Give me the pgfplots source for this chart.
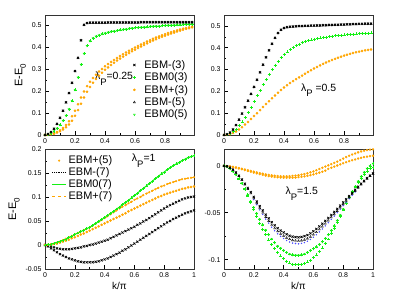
\documentclass[border=0pt]{standalone}
\usepackage{fontspec}
\setmainfont{Liberation Sans}
\usepackage{pgfplots}
\usepackage{pgfplotstable}
\pgfplotsset{compat=1.18}
\definecolor{ggreen}{RGB}{20,240,20}
\definecolor{gorange}{RGB}{255,165,0}

\pgfplotstableread{
k bm g o3 o5
0 0 0 0 0
0.02 0.004 0.003 0.001 0.001
0.04 0.013 0.009 0.004 0.003
0.06 0.028 0.018 0.008 0.006
0.08 0.05 0.03 0.014 0.011
0.10 0.078 0.046 0.022 0.017
0.12 0.11 0.065 0.032 0.025
0.14 0.148 0.088 0.045 0.035
0.16 0.19 0.117 0.062 0.048
0.18 0.237 0.155 0.085 0.065
0.20 0.29 0.205 0.11 0.087
0.22 0.35 0.262 0.14 0.113
0.24 0.43 0.32 0.17 0.142
0.26 0.50 0.37 0.198 0.17
0.28 0.508 0.405 0.222 0.196
0.30 0.51 0.427 0.242 0.218
0.32 0.51 0.44 0.259 0.237
0.34 0.51 0.448 0.274 0.254
0.36 0.51 0.454 0.288 0.269
0.38 0.51 0.459 0.3 0.283
0.40 0.51 0.463 0.312 0.296
0.42 0.511 0.466 0.322 0.307
0.44 0.511 0.469 0.332 0.318
0.46 0.511 0.472 0.341 0.328
0.48 0.511 0.474 0.35 0.338
0.50 0.511 0.477 0.359 0.347
0.52 0.511 0.479 0.367 0.356
0.54 0.511 0.481 0.375 0.364
0.56 0.511 0.483 0.383 0.372
0.58 0.511 0.485 0.39 0.38
0.60 0.511 0.487 0.397 0.387
0.62 0.511 0.488 0.404 0.395
0.64 0.512 0.489 0.411 0.402
0.66 0.512 0.49 0.418 0.409
0.68 0.512 0.491 0.425 0.416
0.70 0.512 0.492 0.431 0.423
0.72 0.512 0.493 0.437 0.429
0.74 0.512 0.494 0.443 0.435
0.76 0.512 0.495 0.448 0.441
0.78 0.512 0.496 0.453 0.446
0.80 0.512 0.497 0.458 0.451
0.82 0.512 0.498 0.463 0.456
0.84 0.512 0.498 0.467 0.461
0.86 0.512 0.499 0.471 0.465
0.88 0.512 0.5 0.475 0.47
0.90 0.512 0.5 0.479 0.474
0.92 0.512 0.501 0.483 0.478
0.94 0.512 0.502 0.486 0.482
0.96 0.512 0.502 0.489 0.485
0.98 0.512 0.503 0.492 0.489
}\TL

\pgfplotstableread{
k b g o
0 0 0 0
0.02 0.003 0.002 0.001
0.04 0.011 0.007 0.004
0.06 0.025 0.015 0.009
0.08 0.045 0.027 0.016
0.10 0.07 0.042 0.025
0.12 0.098 0.06 0.036
0.14 0.127 0.08 0.048
0.16 0.157 0.103 0.06
0.18 0.188 0.128 0.073
0.20 0.22 0.155 0.087
0.22 0.253 0.18 0.1
0.24 0.287 0.205 0.114
0.26 0.322 0.23 0.128
0.28 0.356 0.255 0.142
0.30 0.388 0.279 0.155
0.32 0.418 0.3 0.168
0.34 0.445 0.32 0.181
0.36 0.467 0.338 0.194
0.38 0.482 0.354 0.206
0.40 0.49 0.368 0.218
0.42 0.494 0.381 0.228
0.44 0.496 0.392 0.238
0.46 0.497 0.402 0.247
0.48 0.498 0.41 0.256
0.50 0.499 0.417 0.264
0.52 0.499 0.423 0.272
0.54 0.5 0.428 0.281
0.56 0.5 0.432 0.289
0.58 0.501 0.436 0.297
0.60 0.501 0.439 0.305
0.62 0.502 0.442 0.312
0.64 0.502 0.445 0.319
0.66 0.503 0.447 0.326
0.68 0.503 0.449 0.332
0.70 0.504 0.451 0.338
0.72 0.504 0.453 0.344
0.74 0.505 0.455 0.349
0.76 0.505 0.456 0.354
0.78 0.506 0.458 0.359
0.80 0.506 0.459 0.364
0.82 0.507 0.46 0.368
0.84 0.507 0.461 0.372
0.86 0.508 0.462 0.376
0.88 0.508 0.463 0.379
0.90 0.509 0.464 0.382
0.92 0.509 0.465 0.385
0.94 0.51 0.466 0.388
0.96 0.51 0.467 0.39
0.98 0.51 0.468 0.392
}\TR

\pgfplotstableread{
k g ou ol bu bl
0 0 0 0 0 0
0.02 0.0005 0.0005 0.0003 -0.001 -0.003
0.04 0.0015 0.0015 0.001 -0.003 -0.007
0.06 0.003 0.003 0.002 -0.005 -0.011
0.08 0.005 0.005 0.003 -0.007 -0.015
0.10 0.007 0.007 0.005 -0.008 -0.019
0.12 0.009 0.01 0.007 -0.009 -0.022
0.14 0.012 0.013 0.009 -0.009 -0.025
0.16 0.015 0.016 0.011 -0.009 -0.028
0.18 0.018 0.019 0.014 -0.008 -0.03
0.20 0.022 0.022 0.016 -0.007 -0.032
0.22 0.025 0.025 0.019 -0.006 -0.034
0.24 0.028 0.028 0.022 -0.005 -0.035
0.26 0.031 0.031 0.024 -0.003 -0.036
0.28 0.034 0.034 0.027 -0.002 -0.036
0.30 0.037 0.037 0.03 0 -0.036
0.32 0.041 0.04 0.033 0.001 -0.036
0.34 0.045 0.044 0.036 0.003 -0.035
0.36 0.049 0.048 0.039 0.005 -0.034
0.38 0.053 0.052 0.042 0.007 -0.032
0.40 0.057 0.056 0.045 0.009 -0.03
0.42 0.061 0.06 0.048 0.011 -0.028
0.44 0.066 0.064 0.051 0.014 -0.025
0.46 0.07 0.068 0.054 0.017 -0.022
0.48 0.075 0.072 0.057 0.02 -0.019
0.50 0.079 0.076 0.06 0.023 -0.016
0.52 0.084 0.08 0.063 0.026 -0.012
0.54 0.089 0.083 0.066 0.029 -0.009
0.56 0.093 0.087 0.07 0.032 -0.005
0.58 0.098 0.09 0.073 0.035 -0.001
0.60 0.103 0.094 0.076 0.038 0.003
0.62 0.108 0.097 0.079 0.042 0.007
0.64 0.113 0.1 0.082 0.045 0.011
0.66 0.118 0.104 0.085 0.049 0.015
0.68 0.123 0.107 0.088 0.052 0.019
0.70 0.128 0.11 0.091 0.056 0.023
0.72 0.133 0.113 0.094 0.06 0.027
0.74 0.138 0.116 0.097 0.064 0.031
0.76 0.143 0.119 0.1 0.068 0.035
0.78 0.148 0.122 0.102 0.072 0.039
0.80 0.152 0.124 0.105 0.076 0.043
0.82 0.157 0.127 0.107 0.08 0.047
0.84 0.161 0.129 0.109 0.083 0.05
0.86 0.165 0.131 0.111 0.086 0.054
0.88 0.169 0.133 0.113 0.089 0.057
0.90 0.172 0.135 0.115 0.092 0.06
0.92 0.176 0.137 0.117 0.095 0.063
0.94 0.179 0.138 0.118 0.097 0.066
0.96 0.182 0.139 0.12 0.099 0.068
0.98 0.184 0.14 0.121 0.1 0.07
1 0.186 0.141 0.122 0.101 0.072
}\BL

\pgfplotstableread{
k ou ol b1 b2 g1 g2
0 0 0 0 0 0 0
0.02 -0.0002 -0.0002 -0.0005 -0.0005 -0.001 -0.001
0.04 -0.0006 -0.0007 -0.002 -0.0021 -0.003 -0.003
0.06 -0.001 -0.0013 -0.004 -0.0042 -0.006 -0.006
0.08 -0.0016 -0.002 -0.007 -0.0074 -0.0095 -0.0095
0.10 -0.0023 -0.0028 -0.0105 -0.011 -0.0135 -0.014
0.12 -0.003 -0.0036 -0.0145 -0.0152 -0.0185 -0.019
0.14 -0.0038 -0.0045 -0.019 -0.02 -0.0245 -0.025
0.16 -0.0046 -0.0054 -0.0235 -0.0247 -0.031 -0.032
0.18 -0.0054 -0.0063 -0.028 -0.0294 -0.038 -0.039
0.20 -0.0062 -0.0072 -0.033 -0.0347 -0.0445 -0.0465
0.22 -0.007 -0.008 -0.038 -0.0399 -0.051 -0.054
0.24 -0.0077 -0.0088 -0.043 -0.0452 -0.057 -0.061
0.26 -0.0084 -0.0096 -0.0475 -0.0499 -0.063 -0.0675
0.28 -0.009 -0.0103 -0.052 -0.0546 -0.0685 -0.0735
0.30 -0.0096 -0.0109 -0.056 -0.0588 -0.0735 -0.079
0.32 -0.0101 -0.0114 -0.06 -0.063 -0.078 -0.084
0.34 -0.0105 -0.0119 -0.0635 -0.0667 -0.082 -0.0885
0.36 -0.0108 -0.0122 -0.0665 -0.0698 -0.0855 -0.0925
0.38 -0.011 -0.0125 -0.069 -0.0725 -0.088 -0.096
0.40 -0.0111 -0.0126 -0.071 -0.0746 -0.0905 -0.099
0.42 -0.0111 -0.0127 -0.073 -0.0767 -0.0925 -0.1015
0.44 -0.011 -0.0127 -0.0745 -0.0782 -0.094 -0.1035
0.46 -0.0107 -0.0126 -0.0755 -0.0793 -0.095 -0.105
0.48 -0.0104 -0.0124 -0.076 -0.0798 -0.0955 -0.1055
0.50 -0.01 -0.0121 -0.0762 -0.08 -0.0955 -0.1055
0.52 -0.0094 -0.0117 -0.0758 -0.0796 -0.095 -0.105
0.54 -0.0087 -0.0112 -0.075 -0.0788 -0.094 -0.104
0.56 -0.0079 -0.0106 -0.0738 -0.0775 -0.0925 -0.1025
0.58 -0.0069 -0.0099 -0.072 -0.0756 -0.0905 -0.1005
0.60 -0.0059 -0.0091 -0.0698 -0.0733 -0.0885 -0.098
0.62 -0.0046 -0.0082 -0.0673 -0.0707 -0.0865 -0.095
0.64 -0.0033 -0.0072 -0.0646 -0.0678 -0.084 -0.0915
0.66 -0.002 -0.0062 -0.0617 -0.0648 -0.081 -0.0875
0.68 -0.0007 -0.0051 -0.0587 -0.0616 -0.0775 -0.083
0.70 0.0006 -0.0032 -0.0556 -0.0584 -0.0735 -0.078
0.72 0.0019 -0.002 -0.0524 -0.055 -0.069 -0.0725
0.74 0.0032 -0.0008 -0.0491 -0.0516 -0.064 -0.0665
0.76 0.0045 0.0004 -0.0458 -0.0481 -0.0585 -0.06
0.78 0.0062 0.0016 -0.0424 -0.0445 -0.0525 -0.0535
0.80 0.0078 0.0028 -0.039 -0.041 -0.046 -0.047
0.82 0.0094 0.0039 -0.0356 -0.0374 -0.0395 -0.0405
0.84 0.0108 0.005 -0.0322 -0.0338 -0.0335 -0.034
0.86 0.0121 0.006 -0.0288 -0.0302 -0.0275 -0.028
0.88 0.0133 0.0069 -0.0255 -0.0268 -0.022 -0.0225
0.90 0.0144 0.0078 -0.0222 -0.0233 -0.0165 -0.0175
0.92 0.0154 0.0086 -0.019 -0.02 -0.0115 -0.013
0.94 0.0162 0.0093 -0.016 -0.0168 -0.007 -0.009
0.96 0.0168 0.0099 -0.0131 -0.0138 -0.003 -0.0055
0.98 0.0173 0.0104 -0.0104 -0.0109 0 -0.003
1 0.0176 0.0108 -0.008 -0.0084 0.0025 -0.0015
}\BR

\pgfplotsset{
  panel/.style={
    scale only axis, width=149bp, height=120bp, anchor=south west,
    axis line style={black!80, line width=0.9bp},
    tick align=inside, tick pos=left,
    major tick length=4bp, minor tick length=2bp,
    every tick/.style={black, line width=0.6bp},
    tick label style={font=\fontsize{7}{8}\selectfont},
    /pgf/number format/assume math mode=true,
    /pgf/number format/fixed, /pgf/number format/precision=2,
    xtick={0,0.2,0.4,0.6,0.8,1}, minor x tick num=1,
    minor y tick num=1,
    clip=true,
    xlabel style={font=\fontsize{10}{11}\selectfont, yshift=2bp},
    ylabel style={font=\fontsize{11}{12}\selectfont, yshift=-1bp},
  },
  mx/.style={black, only marks, mark=x, mark size=1.5pt, line width=0.7bp},
  mtri/.style={black, only marks, mark=triangle, mark size=1.2pt, line width=0.4bp},
  mplus/.style={ggreen, only marks, mark=+, mark size=1.5pt, line width=0.7bp},
  mdtri/.style={ggreen, only marks, mark=triangle, mark size=1.1pt, line width=0.4bp, mark options={rotate=180}},
  mdot/.style={gorange, only marks, mark=*, mark size=1.1pt, mark options={draw=gorange, fill=gorange}},
}

\begin{document}
\begin{tikzpicture}
\path[use as bounding box] (0,0) rectangle (411bp,291bp);

% top left
\begin{axis}[panel, at={(45bp,156bp)}, xmin=0, xmax=0.993, ymin=0, ymax=0.545,
  ytick={0,0.1,0.2,0.3,0.4,0.5},
  ylabel={E-E\raisebox{-0.6ex}{\fontsize{8}{8}\selectfont 0}},
  legend cell align=left,
  legend image code/.code={\path[draw=none, fill=none] (0bp,0bp) -- (14bp,0bp); \draw[#1] plot[only marks] coordinates {(6bp,0bp)};},
  legend style={draw=none, fill=none, at={(rel axis cs:0.555,0.645)}, anchor=north west,
    font=\fontsize{11}{12}\selectfont, row sep=-1bp, inner sep=0.5pt}]
\addplot[mdot, forget plot] table[x=k, y=o5] {\TL};
\addplot[mdot, forget plot] table[x=k, y=o3] {\TL};
\addplot[mdtri, forget plot] table[x=k, y=g] {\TL};
\addplot[mplus, forget plot] table[x=k, y=g] {\TL};
\addplot[mtri, forget plot] table[x=k, y=bm] {\TL};
\addplot[mx, forget plot] table[x=k, y=bm] {\TL};
\addlegendimage{mx}\addlegendentry{EBM-(3)}
\addlegendimage{mplus}\addlegendentry{EBM0(3)}
\addlegendimage{mdot}\addlegendentry{EBM+(3)}
\addlegendimage{mtri}\addlegendentry{EBM-(5)}
\addlegendimage{mdtri}\addlegendentry{EBM0(5)}
\node[anchor=west, font=\fontsize{10.5}{11}\selectfont] at (axis cs:0.31,0.255)
  {λ\raisebox{-0.55em}{\fontsize{9.5}{9}\selectfont P}=0.25};
\end{axis}

% top right
\begin{axis}[panel, at={(224bp,156bp)}, xmin=0, xmax=0.993, ymin=0, ymax=0.55,
  ytick={0,0.1,0.2,0.3,0.4,0.5}]
\addplot[mdot] table[x=k, y=o] {\TR};
\addplot[mplus] table[x=k, y=g] {\TR};
\addplot[mtri] table[x=k, y=b] {\TR};
\addplot[mx] table[x=k, y=b] {\TR};
\node[anchor=west, font=\fontsize{10.5}{11}\selectfont] at (axis cs:0.49,0.205)
  {λ\raisebox{-0.55em}{\fontsize{9.5}{9}\selectfont P} =0.5};
\end{axis}

% bottom left
\begin{axis}[panel, at={(45bp,22bp)}, xmin=0, xmax=1, ymin=-0.05, ymax=0.2,
  ytick={-0.05,0,0.05,0.1,0.15,0.2},
  xlabel={k/π},
  ylabel={E-E\raisebox{-0.6ex}{\fontsize{8}{8}\selectfont 0}},
  legend cell align=left,
  legend image code/.code={\draw[mark repeat=2, mark phase=2, #1] plot coordinates {(0bp,0bp) (7bp,0bp) (14bp,0bp)};},
  legend style={draw=none, fill=none, at={(rel axis cs:0.04,0.965)}, anchor=north west,
    font=\fontsize{11}{12}\selectfont, row sep=-1.5bp, inner sep=0.5pt}]
\addplot[mx, forget plot] table[x=k, y=bl] {\BL};
\addplot[mx, forget plot] table[x=k, y=bu] {\BL};
\addplot[mdot, forget plot] table[x=k, y=ol] {\BL};
\addplot[mdot, mark size=0.9pt, forget plot] table[x=k, y=ou] {\BL};
\addplot[gorange, dashed, line width=1bp, forget plot] table[x=k, y=ou] {\BL};
\addplot[mplus, forget plot] table[x=k, y=g] {\BL};
\addplot[ggreen, line width=1bp, forget plot] table[x=k, y=g] {\BL};
\addlegendimage{mdot, mark size=0.9pt}\addlegendentry{EBM+(5)}
\addlegendimage{black, densely dotted, line width=0.8bp}\addlegendentry{EBM-(7)}
\addlegendimage{ggreen, line width=1bp}\addlegendentry{EBM0(7)}
\addlegendimage{gorange, dashed, line width=1bp}\addlegendentry{EBM+(7)}
\node[anchor=west, font=\fontsize{10.5}{11}\selectfont] at (axis cs:0.56,0.175)
  {λ\raisebox{-0.55em}{\fontsize{9.5}{9}\selectfont P}=1};
\end{axis}

% bottom right
\begin{axis}[panel, at={(224bp,22bp)}, xmin=0, xmax=1, ymin=-0.11, ymax=0.018,
  ytick={-0.1,-0.05,0},
  xlabel={k/π}]
\addplot[mdot, mark size=1pt] table[x=k, y=ol] {\BR};
\addplot[mdot, mark size=1pt] table[x=k, y=ou] {\BR};
\addplot[mplus] table[x=k, y=g2] {\BR};
\addplot[mdtri] table[x=k, y=g1] {\BR};
\addplot[mplus] table[x=k, y=g1] {\BR};
\addplot[blue!70, only marks, mark=*, mark size=0.5pt] coordinates {
(0.20,-0.036) (0.22,-0.0414) (0.24,-0.0469) (0.26,-0.0518) (0.28,-0.0567)
(0.30,-0.061) (0.32,-0.0654) (0.34,-0.0692) (0.36,-0.0725) (0.38,-0.0752)
(0.40,-0.0774) (0.42,-0.0796) (0.44,-0.0812) (0.46,-0.0823) (0.48,-0.0828)
(0.50,-0.0831) (0.52,-0.0826) (0.54,-0.0818) (0.56,-0.0804) (0.58,-0.0785)
(0.60,-0.0761) (0.62,-0.0734) (0.64,-0.0704) (0.66,-0.0673) (0.68,-0.064)
(0.70,-0.0606) (0.72,-0.0571) (0.74,-0.0535) (0.76,-0.0499) (0.78,-0.0462)
(0.80,-0.0425) (0.82,-0.0388) (0.84,-0.0351) (0.86,-0.0314) (0.88,-0.0278)};
\addplot[mtri] table[x=k, y=b2] {\BR};
\addplot[mx] table[x=k, y=b1] {\BR};
\node[anchor=west, font=\fontsize{10.5}{11}\selectfont] at (axis cs:0.39,-0.03)
  {λ\raisebox{-0.55em}{\fontsize{9.5}{9}\selectfont P}=1.5};
\end{axis}
\end{tikzpicture}
\end{document}
